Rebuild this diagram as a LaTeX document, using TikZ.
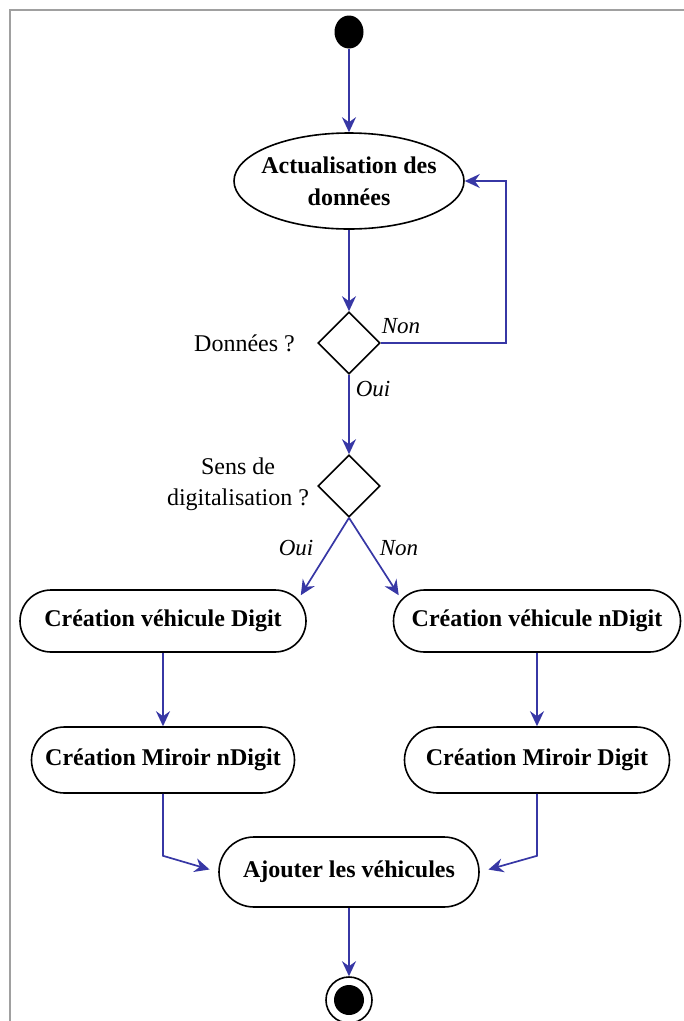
\documentclass[tikz,border=0pt]{standalone}
\usepackage{fontspec}
\setmainfont{Liberation Serif}
\usetikzlibrary{arrows.meta,shapes.geometric,calc}
\definecolor{arrblue}{RGB}{55,55,165}
\definecolor{frame}{RGB}{160,160,160}
\tikzset{
  arr/.style={draw=arrblue, line width=1.7pt, -{Stealth[length=15pt,width=14pt,inset=5pt]}},
  act/.style={draw, line width=1.6pt, rectangle, rounded corners=31pt, inner sep=0pt,
    font=\bfseries\fontsize{24}{32}\selectfont, align=center},
  dec/.style={draw, line width=1.6pt, diamond, aspect=1, minimum width=62pt, minimum height=62pt, inner sep=0pt},
  lbl/.style={font=\fontsize{24}{31}\selectfont, align=center, inner sep=0pt},
  guard/.style={font=\itshape\fontsize{23}{26}\selectfont, inner sep=0pt}
}
\begin{document}
\begin{tikzpicture}[x=1pt,y=-1pt]
\useasboundingbox (0,0) rectangle (684,1021);
\draw[frame, line width=2pt] (10,1021) -- (10,10) -- (684,10);

\node[ellipse, fill=black, minimum width=29pt, minimum height=33pt, inner sep=0pt] (start) at (349,32) {};
\node[ellipse, draw, line width=1.6pt, minimum width=230pt, minimum height=96pt, inner sep=0pt] (upd) at (349,181) {};
\node[font=\bfseries\fontsize{24}{32}\selectfont, align=center, inner sep=0pt] (updtxt) at (upd) {Actualisation des\\données};
\node[dec] (d1) at (349,343) {};
\node[dec] (d2) at (349,486) {};
\node[act, minimum width=286pt, minimum height=62pt] (vd) at (163,621) {Création véhicule Digit};
\node[act, minimum width=287pt, minimum height=62pt] (vn) at (537,621) {Création véhicule nDigit};
\node[act, minimum width=263pt, minimum height=66pt, rounded corners=33pt] (mn) at (163,760) {Création Miroir nDigit};
\node[act, minimum width=265pt, minimum height=66pt, rounded corners=33pt] (md) at (537,760) {Création Miroir Digit};
\node[act, minimum width=260pt, minimum height=70pt, rounded corners=35pt] (aj) at (349,872) {Ajouter les véhicules};
\node[circle, draw, line width=1.6pt, minimum size=46pt, inner sep=0pt] (end) at (349,1000) {};
\node[circle, fill=black, minimum size=30pt, inner sep=0pt] (endin) at (end) {};

\node[lbl, anchor=east] (q1) at (295,343) {Données ?};
\node[lbl] (q2) at (238,484) {Sens de\\digitalisation ?};
\node[guard] (non1) at (401,326) {Non};
\node[guard] (oui1) at (373,389) {Oui};
\node[guard] (oui2) at (296,548) {Oui};
\node[guard] (non2) at (399,548) {Non};

\draw[arr] (start) -- (upd);
\draw[arr] (upd) -- (d1);
\draw[arr] (d1.east) -- ++(125,0) |- (upd.east);
\draw[arr] (d1) -- (d2);
\coordinate (vdtip) at ($(vd.north east)+(-6,6)$);
\coordinate (vntip) at ($(vn.north west)+(6,6)$);
\draw[arr] (d2.south) -- (vdtip);
\draw[arr] (d2.south) -- (vntip);
\draw[arr] (vd) -- (mn);
\draw[arr] (vn) -- (md);
\draw[arr, shorten >=9pt] (mn.south) -- ++(0,62) -- (aj.west);
\draw[arr, shorten >=9pt] (md.south) -- ++(0,62) -- (aj.east);
\draw[arr] (aj) -- (end);
\end{tikzpicture}
\end{document}
